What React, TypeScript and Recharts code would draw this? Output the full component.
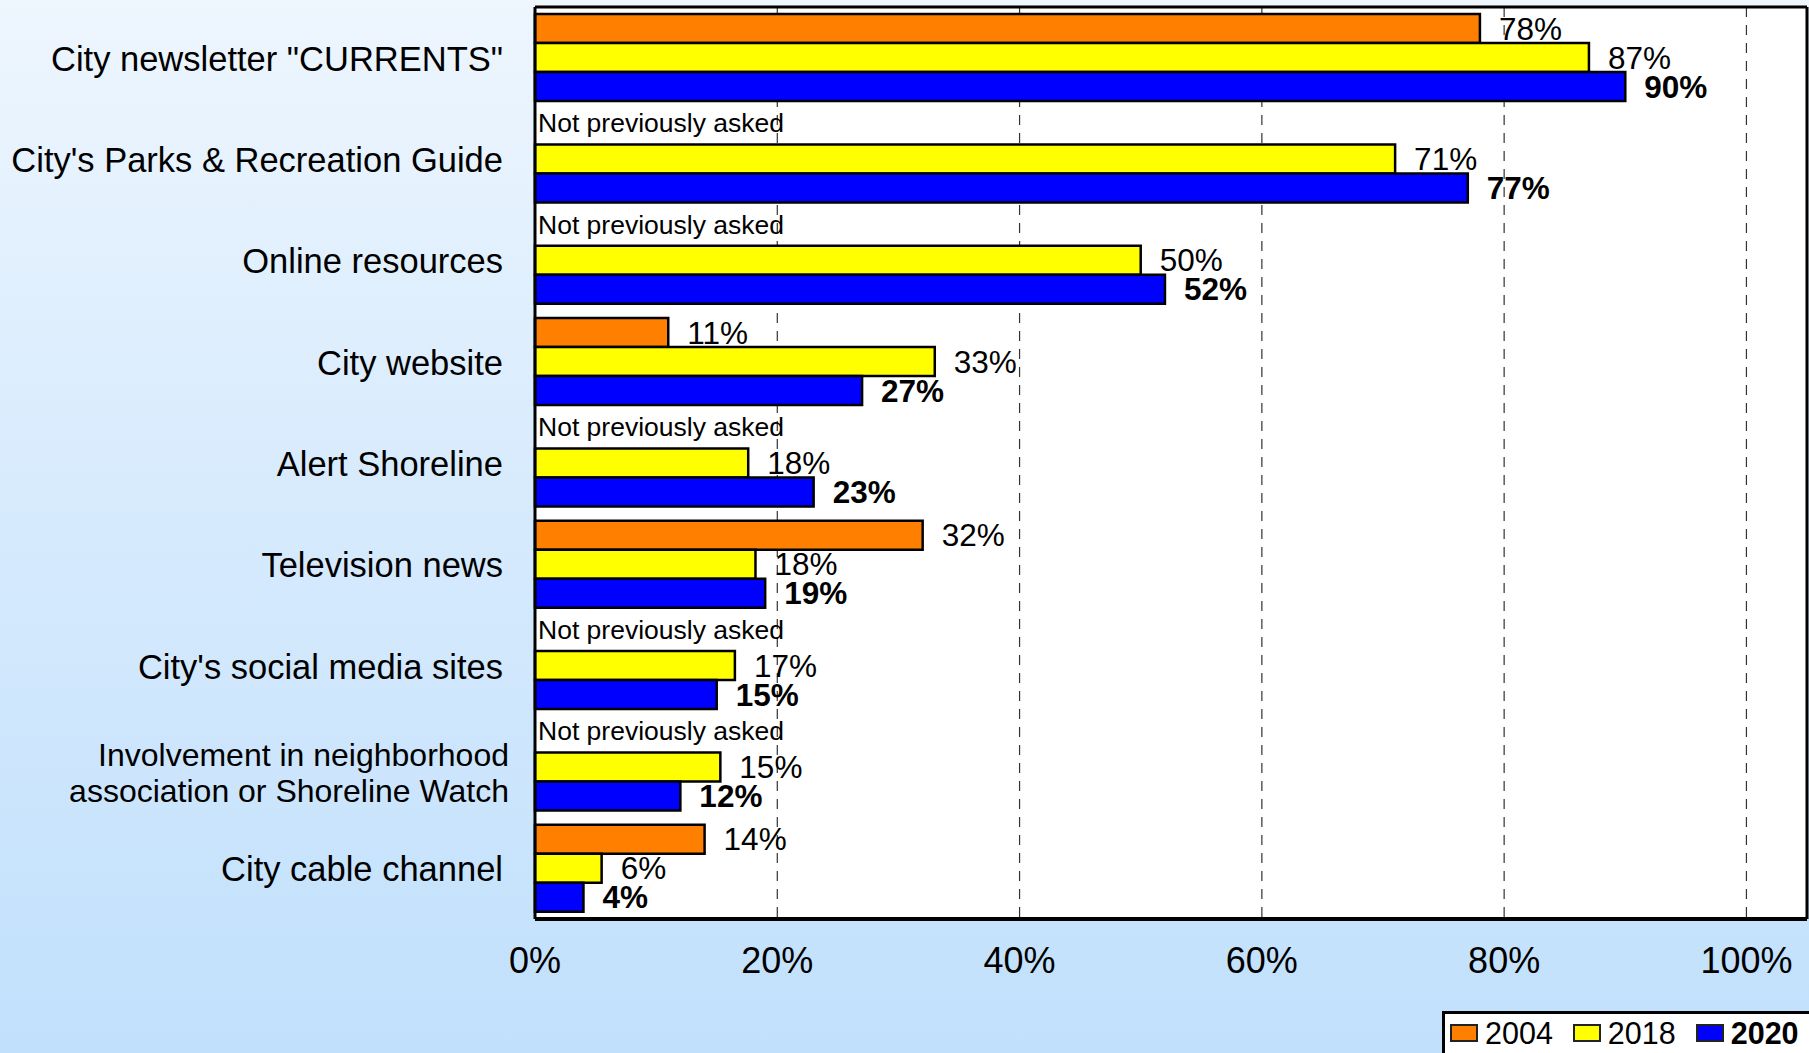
import React from 'react';
import { BarChart, Bar, XAxis, YAxis, CartesianGrid, LabelList, Legend } from 'recharts';

const FONT = "'Liberation Sans', Arial, sans-serif";

const categories = [
    'City newsletter "CURRENTS"',
    "City's Parks & Recreation Guide",
    'Online resources',
    'City website',
    'Alert Shoreline',
    'Television news',
    "City's social media sites",
    'Involvement in neighborhood\nassociation or Shoreline Watch',
    'City cable channel',
];

const y2004 = [78, null, null, 11, null, 32, null, null, 14];
const y2018 = [87, 71, 50, 33, 17.6, 18.2, 16.5, 15.3, 5.5];
const y2020 = [90, 77, 52, 27, 23, 19, 15, 12, 4];

const xTicks = [0, 20, 40, 60, 80, 100];
const noteText = 'Not previously asked';

const data = categories.map((name, i) => ({
    name,
    y2004: y2004[i],
    y2018: y2018[i],
    y2020: y2020[i],
    note: y2004[i] == null ? noteText : '',
}));

const pct = (v: any) => (v == null ? '' : `${Math.round(Number(v))}%`);

// category labels, may wrap on \n
const CategoryTick = (props: any) => {
    const { x, y, payload } = props;
    const lines = String(payload.value).split('\n');
    const multi = lines.length > 1;
    return (
        <text x={x} y={y} textAnchor="end" fontSize={multi ? 32 : 34.5} fill="#000" fontFamily={FONT}>
            {lines.map((l, i) => (
                <tspan key={i} x={multi ? x + 6 : x} dy={i === 0 ? (multi ? -1 : 13) : 36}>
                    {l}
                </tspan>
            ))}
        </text>
    );
};

// "Not previously asked" sits in the empty 2004 slot, above the 2018 bar
const NoteLabel = (props: any) => {
    const vb = props.viewBox || props;
    const { x, y } = vb;
    if (!props.value) return null;
    return (
        <text x={x + 3} y={y - 12} fontSize={26.5} fill="#000" fontFamily={FONT}>
            {props.value}
        </text>
    );
};

const LegendBox = (props: any) => {
    const { payload = [] } = props;
    return (
        <div style={{
            border: '3px solid #000',
            background: '#fff',
            display: 'flex',
            alignItems: 'flex-start',
            height: 60,
            boxSizing: 'border-box',
            padding: '2px 10px 0 5px',
            fontFamily: FONT,
            fontSize: 30.5,
            lineHeight: '34px',
            color: '#000',
        }}>
            {payload.map((p: any, i: number) => (
                <span key={i} style={{ display: 'flex', alignItems: 'center', marginRight: i < payload.length - 1 ? 20 : 0, fontWeight: p.value === '2020' ? 'bold' : 'normal' }}>
                    <span style={{ width: 28, height: 18, background: p.color, border: '2px solid #222', boxSizing: 'border-box', marginRight: 7, display: 'inline-block' }} />
                    {p.value}
                </span>
            ))}
        </div>
    );
};

export default function App() {
    return (
        <div style={{
            position: 'absolute',
            left: 0,
            top: 0,
            width: 1809,
            height: 1053,
            overflow: 'hidden',
            background: 'linear-gradient(to bottom, #eef6fe 0%, #d8ebfd 45%, #c1e0fc 100%)',
        }}>
            <BarChart
                width={1809}
                height={1053}
                data={data}
                layout="vertical"
                margin={{ top: 6, right: 0, bottom: 74, left: 0 }}
                barCategoryGap="7%"
                barGap={0}
            >
                <CartesianGrid horizontal={false} stroke="#333" strokeDasharray="10 8" strokeWidth={1.2} fill="#fff" fillOpacity={1} />
                <XAxis
                    type="number"
                    domain={[0, 105]}
                    ticks={xTicks}
                    tickFormatter={(v) => `${v}%`}
                    height={60}
                    tickSize={0}
                    tickMargin={28}
                    axisLine={{ stroke: '#000', strokeWidth: 4 }}
                    tick={{ fill: '#000', fontSize: 36, fontFamily: FONT }}
                />
                <XAxis
                    xAxisId="top"
                    orientation="top"
                    type="number"
                    domain={[0, 105]}
                    height={1}
                    tick={false}
                    tickLine={false}
                    axisLine={{ stroke: '#000', strokeWidth: 3 }}
                />
                <YAxis
                    type="category"
                    dataKey="name"
                    width={535}
                    tickSize={0}
                    tickMargin={32}
                    interval={0}
                    axisLine={{ stroke: '#000', strokeWidth: 3 }}
                    tick={<CategoryTick />}
                />
                <YAxis
                    yAxisId="right"
                    orientation="right"
                    type="category"
                    dataKey="name"
                    width={2}
                    tick={false}
                    tickLine={false}
                    axisLine={{ stroke: '#000', strokeWidth: 3 }}
                />
                <Legend
                    layout="horizontal"
                    verticalAlign="middle"
                    align="center"
                    content={<LegendBox />}
                    wrapperStyle={{ left: 1442, top: 1011, width: 'auto' }}
                />
                <Bar dataKey="y2004" name="2004" fill="#ff8000" stroke="#000" strokeWidth={2.5} isAnimationActive={false}>
                    <LabelList dataKey="y2004" position="right" offset={19} formatter={pct} fill="#000" fontSize={31.5} fontFamily={FONT} />
                </Bar>
                <Bar dataKey="y2018" name="2018" fill="#ffff00" stroke="#000" strokeWidth={2.5} isAnimationActive={false}>
                    <LabelList dataKey="y2018" position="right" offset={19} formatter={pct} fill="#000" fontSize={31.5} fontFamily={FONT} />
                    <LabelList dataKey="note" content={<NoteLabel />} />
                </Bar>
                <Bar dataKey="y2020" name="2020" fill="#0000ff" stroke="#000" strokeWidth={2.5} isAnimationActive={false}>
                    <LabelList dataKey="y2020" position="right" offset={19} formatter={pct} fill="#000" fontSize={31.5} fontWeight="bold" fontFamily={FONT} />
                </Bar>
            </BarChart>
        </div>
    );
}
